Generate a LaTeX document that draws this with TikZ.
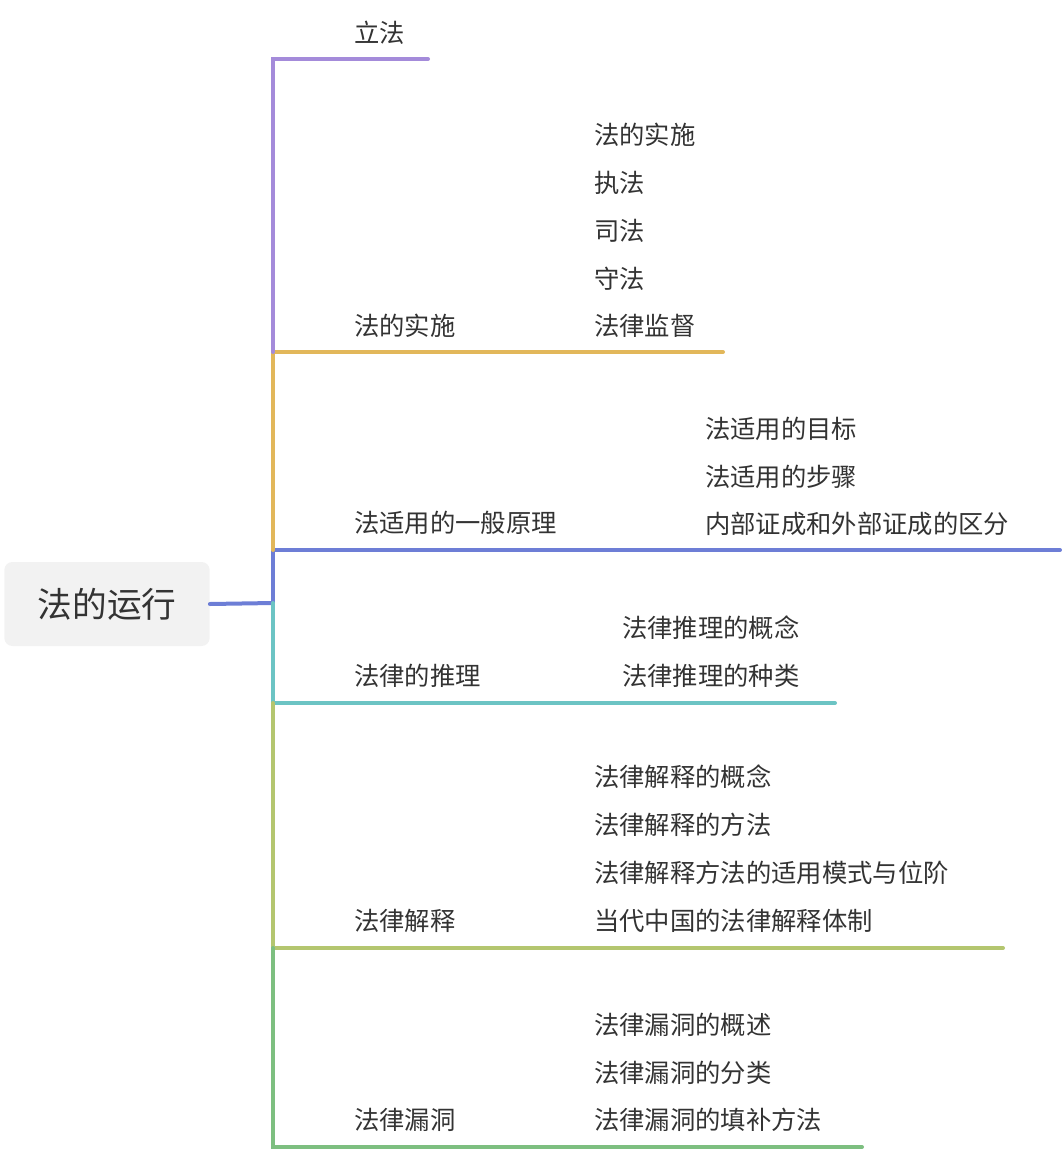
\documentclass[tikz,border=0pt]{standalone}
\usepackage{fontspec}
\setmainfont{Noto Sans CJK SC}
\usetikzlibrary{positioning}
\definecolor{cpurple}{HTML}{A48BDA}
\definecolor{cyellow}{HTML}{E2B75A}
\definecolor{cblue}{HTML}{6D7ED6}
\definecolor{cteal}{HTML}{6CC4C4}
\definecolor{colive}{HTML}{B4C66F}
\definecolor{cgreen}{HTML}{7DBF80}
\begin{document}
\begin{tikzpicture}[x=0.75pt, y=-0.75pt,
    leaf/.style={anchor=west, inner sep=0pt, font=\fontsize{19}{22}\selectfont, text=black!80},
    branch/.style={line width=3pt, line cap=round},
    rootbox/.style={fill=black!5, rounded corners=6pt, minimum width=154pt, minimum height=63pt, font=\fontsize{26}{30}\selectfont, text=black!80}
  ]
  \useasboundingbox (0,0) rectangle (1062,1152);

  % root
  \node[rootbox] (root) at (107,604) {法的运行};

  % trunk points
  \coordinate (t0) at (273,59);
  \coordinate (t1) at (273,352);
  \coordinate (t2) at (273,550);
  \coordinate (tr) at (273,603);
  \coordinate (t3) at (273,703);
  \coordinate (t4) at (273,948);
  \coordinate (t5) at (273,1147);

  % branch ends
  \coordinate (e0) at (428,59);
  \coordinate (e1) at (723,352);
  \coordinate (e2) at (1060,550);
  \coordinate (e3) at (835,703);
  \coordinate (e4) at (1003,948);
  \coordinate (e5) at (862,1147);

  % connectors
  \draw[branch, cblue] (root.east) -- (tr);
  \draw[branch, cblue] (tr) -- (t2) -- (e2);
  \draw[branch, cteal] (tr) -- (t3) -- (e3);
  \draw[branch, cyellow] (t2) -- (t1) -- (e1);
  \draw[branch, cpurple] (t1) -- (t0) -- (e0);
  \draw[branch, colive] (t3) -- (t4) -- (e4);
  \draw[branch, cgreen] (t4) -- (t5) -- (e5);

  % labels
  \node[leaf] (lifa) at (354,33) {立法};
  \node[leaf] (shishi) at (354,326) {法的实施};
  \node[leaf] (yuanli) at (354,523) {法适用的一般原理};
  \node[leaf] (tuili) at (354,676) {法律的推理};
  \node[leaf] (jieshi) at (354,921) {法律解释};
  \node[leaf] (loudong) at (354,1120) {法律漏洞};

  \node[leaf] (s1) at (594,135) {法的实施};
  \node[leaf] (s2) at (594,183) {执法};
  \node[leaf] (s3) at (594,231) {司法};
  \node[leaf] (s4) at (594,279) {守法};
  \node[leaf] (s5) at (594,326) {法律监督};

  \node[leaf] (y1) at (705,429) {法适用的目标};
  \node[leaf] (y2) at (705,477) {法适用的步骤};
  \node[leaf] (y3) at (705,524) {内部证成和外部证成的区分};

  \node[leaf] (r1) at (622,628) {法律推理的概念};
  \node[leaf] (r2) at (622,676) {法律推理的种类};

  \node[leaf] (j1) at (594,777) {法律解释的概念};
  \node[leaf] (j2) at (594,825) {法律解释的方法};
  \node[leaf] (j3) at (594,873) {法律解释方法的适用模式与位阶};
  \node[leaf] (j4) at (594,921) {当代中国的法律解释体制};

  \node[leaf] (l1) at (594,1025) {法律漏洞的概述};
  \node[leaf] (l2) at (594,1073) {法律漏洞的分类};
  \node[leaf] (l3) at (594,1120) {法律漏洞的填补方法};
\end{tikzpicture}
\end{document}
